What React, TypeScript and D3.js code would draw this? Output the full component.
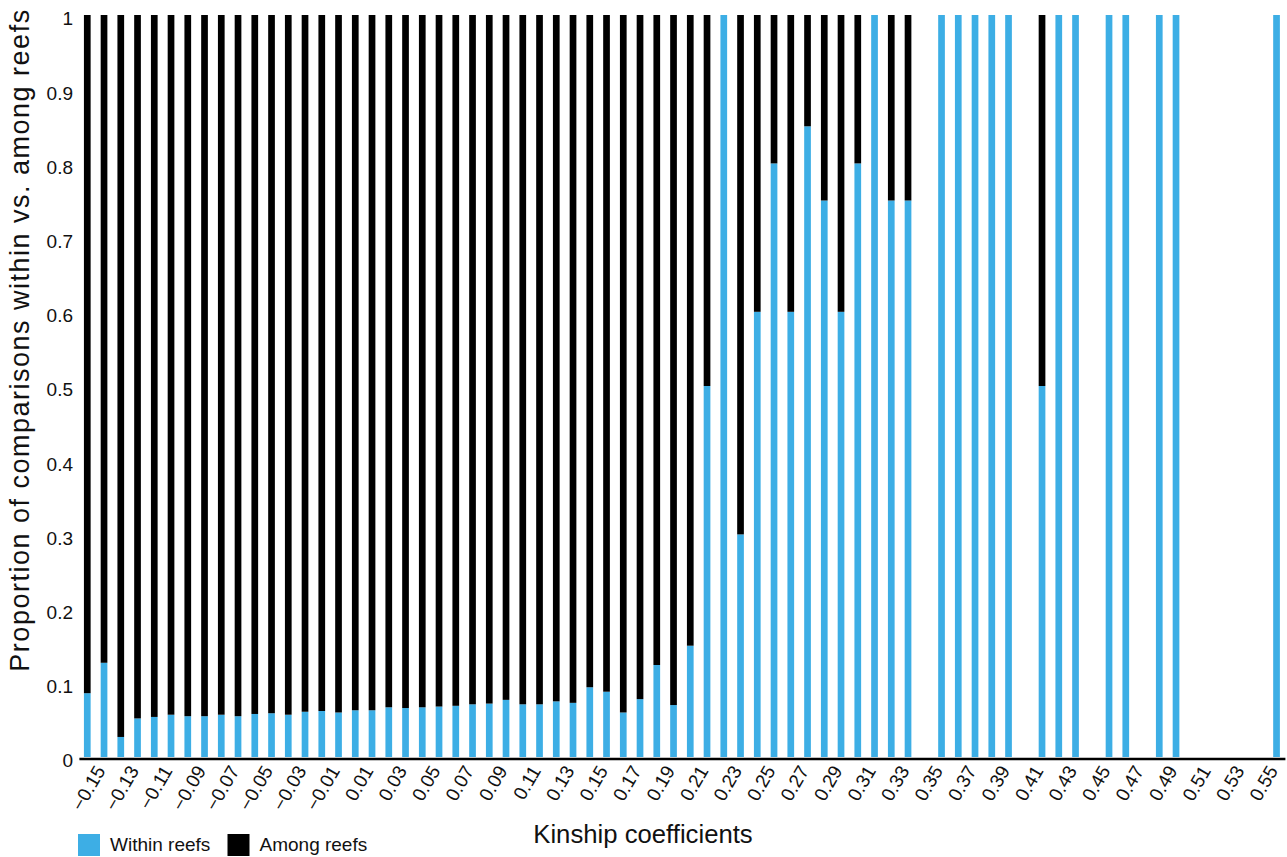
import React, { useRef, useEffect } from "react";
import * as d3 from "d3";

// kinship coefficient bins (x categories)
const kinship = [
  "-0.16", "-0.15", "-0.14", "-0.13", "-0.12", "-0.11", "-0.10", "-0.09",
  "-0.08", "-0.07", "-0.06", "-0.05", "-0.04", "-0.03", "-0.02", "-0.01",
  "0.00", "0.01", "0.02", "0.03", "0.04", "0.05", "0.06", "0.07",
  "0.08", "0.09", "0.10", "0.11", "0.12", "0.13", "0.14", "0.15",
  "0.16", "0.17", "0.18", "0.19", "0.20", "0.21", "0.22", "0.23",
  "0.24", "0.25", "0.26", "0.27", "0.28", "0.29", "0.30", "0.31",
  "0.32", "0.33", "0.34", "0.35", "0.36", "0.37", "0.38", "0.39",
  "0.40", "0.41", "0.42", "0.43", "0.44", "0.45", "0.46", "0.47",
  "0.48", "0.49", "0.50", "0.51", "0.52", "0.53", "0.54", "0.55",
];

// proportion within reefs (null = no comparisons in that bin)
const withinReefs = [
  0.086, 0.127, 0.027, 0.052, 0.054, 0.057, 0.055, 0.055,
  0.057, 0.055, 0.058, 0.059, 0.057, 0.061, 0.062, 0.060,
  0.063, 0.063, 0.067, 0.066, 0.067, 0.068, 0.069, 0.071,
  0.072, 0.077, 0.071, 0.071, 0.075, 0.073, 0.094, 0.088,
  0.060, 0.078, 0.124, 0.070, 0.15, 0.5, 1, 0.3,
  0.6, 0.8, 0.6, 0.85, 0.75, 0.6, 0.8, 1,
  0.75, 0.75, null, 1, 1, 1, 1, 1,
  null, 0.5, 1, 1, null, 1, 1, null,
  1, 1, null, null, null, null, null, 1,
];

// proportion among reefs
const amongReefs = [
  0.914, 0.873, 0.973, 0.948, 0.946, 0.943, 0.945, 0.945,
  0.943, 0.945, 0.942, 0.941, 0.943, 0.939, 0.938, 0.940,
  0.937, 0.937, 0.933, 0.934, 0.933, 0.932, 0.931, 0.929,
  0.928, 0.923, 0.929, 0.929, 0.925, 0.927, 0.906, 0.912,
  0.940, 0.922, 0.876, 0.930, 0.85, 0.5, 0, 0.7,
  0.4, 0.2, 0.4, 0.15, 0.25, 0.4, 0.2, 0,
  0.25, 0.25, null, 0, 0, 0, 0, 0,
  null, 0.5, 0, 0, null, 0, 0, null,
  0, 0, null, null, null, null, null, 0,
];

// labelled ticks on the x axis
const xTickLabels = [
  "-0.15", "-0.13", "-0.11", "-0.09", "-0.07", "-0.05", "-0.03", "-0.01",
  "0.01", "0.03", "0.05", "0.07", "0.09", "0.11", "0.13", "0.15",
  "0.17", "0.19", "0.21", "0.23", "0.25", "0.27", "0.29", "0.31",
  "0.33", "0.35", "0.37", "0.39", "0.41", "0.43", "0.45", "0.47",
  "0.49", "0.51", "0.53", "0.55",
];

const yTicks = [0, 0.1, 0.2, 0.3, 0.4, 0.5, 0.6, 0.7, 0.8, 0.9, 1];

const BLUE = "#3daee5";
const BLACK = "#000000";
const FONT = "'Liberation Sans', Arial, Helvetica, sans-serif";

const App = () => {
  const svgRef = useRef(null);

  useEffect(() => {
    const width = 1287,
      height = 857;

    d3.select(svgRef.current).selectAll("*").remove();

    const svg = d3
      .select(svgRef.current)
      .attr("width", width)
      .attr("height", height)
      .style("font-family", FONT);

    const xScale = d3
      .scaleBand()
      .domain(kinship)
      .range([78.9, 1284.9])
      .paddingInner(0.6)
      .paddingOuter(0.3);

    const yScale = d3.scaleLinear().domain([0, 1]).range([757, 15]);

    // table for the stack
    const table = kinship.map((k, i) => ({
      k,
      within: withinReefs[i] ?? 0,
      among: amongReefs[i] ?? 0,
    }));

    const series = d3.stack().keys(["within", "among"])(table);
    const colors = { within: BLUE, among: BLACK };

    svg
      .append("g")
      .selectAll("g")
      .data(series)
      .enter()
      .append("g")
      .attr("fill", (s) => colors[s.key])
      .selectAll("rect")
      .data((s) => s.filter((d) => d[1] - d[0] > 0))
      .enter()
      .append("rect")
      .attr("x", (d) => xScale(d.data.k))
      .attr("width", xScale.bandwidth())
      .attr("y", (d) => yScale(d[1]))
      .attr("height", (d) => yScale(d[0]) - yScale(d[1]));

    // X axis
    const xAxis = svg
      .append("g")
      .attr("transform", "translate(0,758.5)")
      .call(
        d3
          .axisBottom(xScale)
          .tickValues(xTickLabels)
          .tickSize(0)
          .tickFormat((d) => d.replace("-", "\u2212"))
      );
    xAxis.select(".domain").attr("stroke", BLACK).attr("stroke-width", 2.5);
    xAxis
      .selectAll("text")
      .attr("y", 0)
      .attr("dy", 0)
      .attr("transform", "translate(2,12) rotate(-60)")
      .style("text-anchor", "end")
      .style("font-size", "19px")
      .style("font-family", FONT)
      .attr("fill", "#111");

    // Y axis
    const yAxis = svg
      .append("g")
      .attr("transform", "translate(73,0)")
      .call(
        d3
          .axisLeft(yScale)
          .tickValues(yTicks)
          .tickSize(0)
          .tickPadding(0)
          .tickFormat(d3.format("~g"))
      );
    yAxis.select(".domain").remove();
    yAxis
      .selectAll("text")
      .attr("dy", "0.52em")
      .style("font-size", "19px")
      .style("font-family", FONT)
      .attr("fill", "#111");

    // axis titles
    svg
      .append("text")
      .attr("x", 643)
      .attr("y", 843)
      .attr("text-anchor", "middle")
      .style("font-size", "25.7px")
      .attr("fill", "#111")
      .text("Kinship coefficients");

    svg
      .append("text")
      .attr("transform", "translate(29,340) rotate(-90)")
      .attr("text-anchor", "middle")
      .style("font-size", "27px")
      .style("letter-spacing", "1.5px")
      .attr("fill", "#111")
      .text("Proportion of comparisons within vs. among reefs");

    // legend
    const legend = [
      { label: "Within reefs", color: BLUE, x: 78 },
      { label: "Among reefs", color: BLACK, x: 227.5 },
    ];
    const lg = svg
      .append("g")
      .selectAll("g")
      .data(legend)
      .enter()
      .append("g")
      .attr("transform", (d) => `translate(${d.x},834)`);
    lg.append("rect")
      .attr("width", 22)
      .attr("height", 22)
      .attr("fill", (d) => d.color);
    lg.append("text")
      .attr("x", 32)
      .attr("y", 17)
      .style("font-size", "19px")
      .attr("fill", "#111")
      .text((d) => d.label);
  }, []);

  return (
    <svg
      ref={svgRef}
      style={{ position: "absolute", left: 0, top: 0, display: "block" }}
    ></svg>
  );
};

export default App;
